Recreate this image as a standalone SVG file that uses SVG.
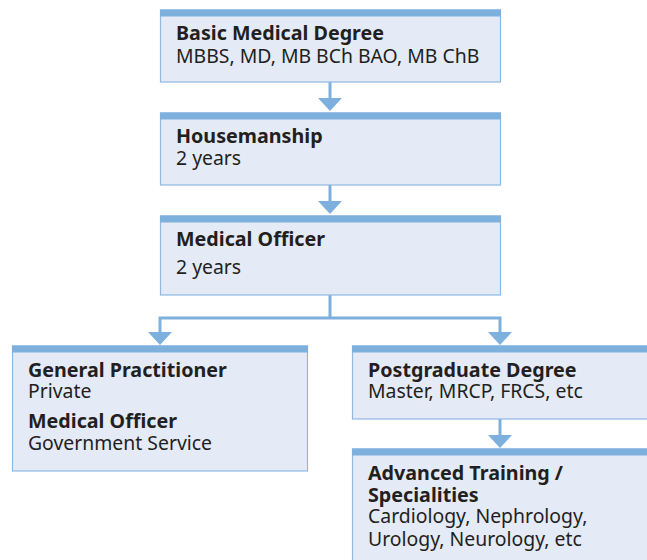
<svg xmlns="http://www.w3.org/2000/svg" width="647" height="560" viewBox="0 0 647 560">
<style>
.box{fill:#e4eaf6;stroke:#8fb8e2;stroke-width:1.2}
.bar{fill:#7eb0de}
.t{font-family:"Noto Sans","Open Sans",sans-serif;font-size:19.4px;fill:#231f20}
.b{font-weight:bold;font-size:19.7px}
.ln{stroke:#7eb0de;stroke-width:3;fill:none}
.ah{fill:#7eb0de}
</style>
<defs>
<path id="arr" d="M-12,0 L12,0 L0,13 Z" class="ah"/>
</defs>
<rect width="647" height="560" fill="#ffffff"/>
<g id="connectors">
<line class="ln" x1="330" y1="82" x2="330" y2="99"/>
<use href="#arr" x="330" y="98"/>
<line class="ln" x1="330" y1="185" x2="330" y2="202"/>
<use href="#arr" x="330" y="201"/>
<path class="ln" d="M330,295 V318 M160,318 H500 M160,316.5 V334 M500,316.5 V334"/>
<use href="#arr" x="160" y="332"/>
<use href="#arr" x="500" y="332"/>
<line class="ln" x1="500" y1="419" x2="500" y2="436"/>
<use href="#arr" x="500" y="435"/>
</g>
<g id="basic">
<rect class="box" x="160.5" y="10" width="340" height="72"/>
<rect class="bar" x="160" y="9.5" width="341" height="7"/>
<text class="t b" x="176" y="40">Basic Medical Degree</text>
<text class="t" x="176" y="63">MBBS, MD, MB BCh BAO, MB ChB</text>
</g>
<g id="housemanship">
<rect class="box" x="160.5" y="113" width="340" height="72"/>
<rect class="bar" x="160" y="112.5" width="341" height="7"/>
<text class="t b" x="176" y="143">Housemanship</text>
<text class="t" x="176" y="165">2 years</text>
</g>
<g id="medical-officer">
<rect class="box" x="160.5" y="216" width="340" height="79"/>
<rect class="bar" x="160" y="215.5" width="341" height="7"/>
<text class="t b" x="176" y="246">Medical Officer</text>
<text class="t" x="176" y="274">2 years</text>
</g>
<g id="general-practitioner">
<rect class="box" x="12.5" y="346" width="295" height="125"/>
<rect class="bar" x="12" y="345.5" width="296" height="7"/>
<text class="t b" x="28" y="377">General Practitioner</text>
<text class="t" x="28" y="398">Private</text>
<text class="t b" x="28" y="428">Medical Officer</text>
<text class="t" x="28" y="450">Government Service</text>
</g>
<g id="postgraduate">
<rect class="box" x="352.5" y="346" width="300" height="73"/>
<rect class="bar" x="352" y="345.5" width="300" height="7"/>
<text class="t b" x="368" y="377">Postgraduate Degree</text>
<text class="t" x="368" y="398">Master, MRCP, FRCS, etc</text>
</g>
<g id="advanced">
<rect class="box" x="352.5" y="449" width="300" height="120"/>
<rect class="bar" x="352" y="448.5" width="300" height="7"/>
<text class="t b" x="368" y="480">Advanced Training /</text>
<text class="t b" x="368" y="502">Specialities</text>
<text class="t" x="368" y="523">Cardiology, Nephrology,</text>
<text class="t" x="368" y="546">Urology, Neurology, etc</text>
</g>
</svg>
